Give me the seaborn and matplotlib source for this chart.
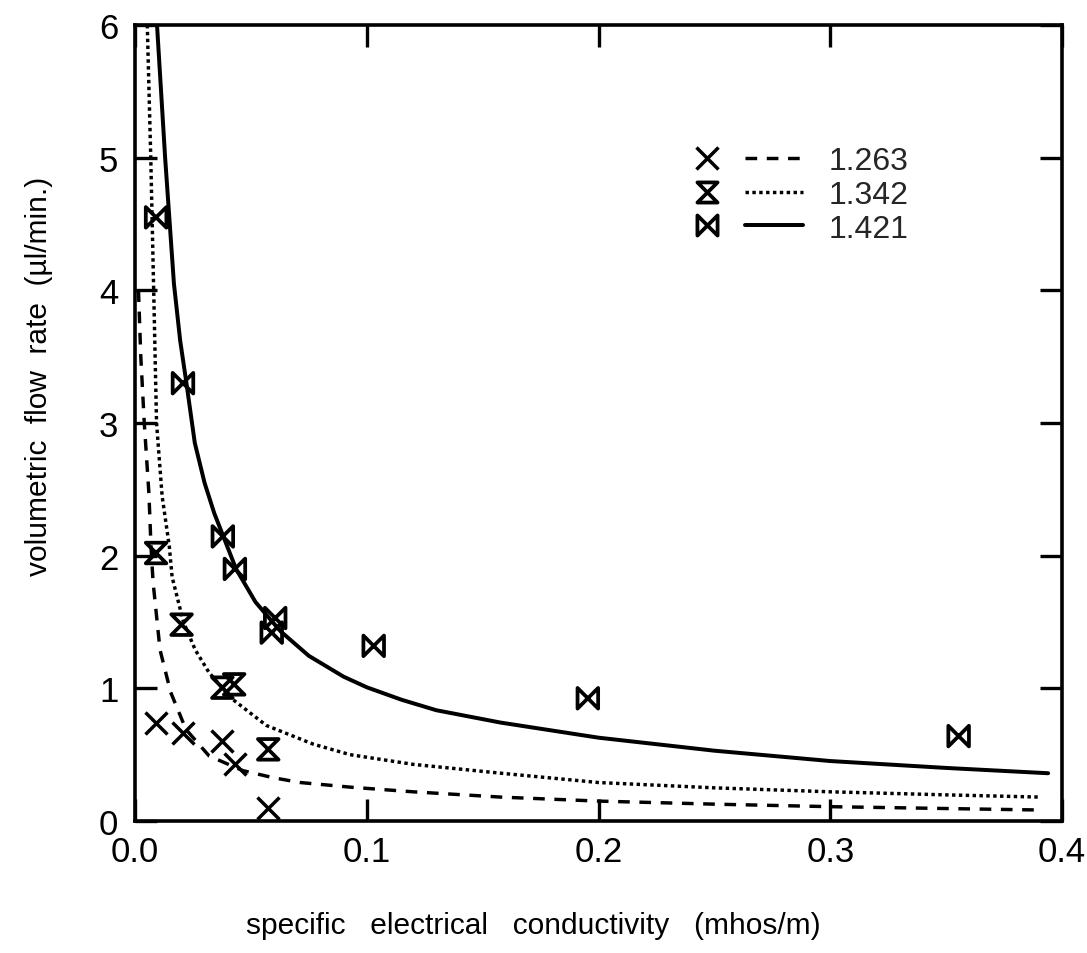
import numpy as np
import pandas as pd
import matplotlib
matplotlib.use("Agg")
import matplotlib.pyplot as plt
from matplotlib.path import Path
from matplotlib.lines import Line2D
from matplotlib.legend_handler import HandlerTuple
import seaborn as sns

# ---------------- data ----------------
series_labels = ["1.263", "1.342", "1.421"]

# measured points
x_pts_1263 = [0.0090, 0.0206, 0.0377, 0.0431, 0.0576]
y_pts_1263 = [0.74, 0.667, 0.60, 0.43, 0.10]

x_pts_1342 = [0.0091, 0.0201, 0.0377, 0.0428, 0.0575]
y_pts_1342 = [2.02, 1.48, 1.005, 1.03, 0.54]

x_pts_1421 = [0.0091, 0.0207, 0.0379, 0.0431, 0.0590, 0.0605, 0.1030, 0.1954, 0.3554]
y_pts_1421 = [4.55, 3.30, 2.145, 1.90, 1.42, 1.53, 1.32, 0.925, 0.64]

# fitted curves
x_fit_1263 = [0.0015, 0.0025, 0.0040, 0.0060, 0.0069, 0.0078, 0.0108, 0.0154,
              0.0220, 0.0320, 0.0465, 0.0600, 0.0713, 0.0930, 0.120, 0.158, 0.200,
              0.250, 0.300, 0.350, 0.390]
y_fit_1263 = [4.00, 3.50, 3.00, 2.47, 2.07, 1.80, 1.29, 0.97,
              0.69, 0.49, 0.38, 0.325, 0.29, 0.255, 0.22, 0.18, 0.15,
              0.127, 0.108, 0.094, 0.083]

x_fit_1342 = [0.0053, 0.0068, 0.0080, 0.0093, 0.0117, 0.0148, 0.0160, 0.0209,
              0.0260, 0.0319, 0.0419, 0.0567, 0.0768, 0.0928, 0.120, 0.158, 0.200,
              0.250, 0.300, 0.350, 0.391]
y_fit_1342 = [6.00, 5.00, 4.05, 3.00, 2.45, 2.07, 1.84, 1.50,
              1.29, 1.12, 0.92, 0.72, 0.58, 0.50, 0.427, 0.36, 0.29,
              0.25, 0.22, 0.197, 0.18]

x_fit_1421 = [0.0095, 0.0130, 0.0168, 0.0195, 0.0222, 0.0258, 0.0300, 0.0342,
              0.0436, 0.0520, 0.0628, 0.0750, 0.0900, 0.100, 0.115, 0.130,
              0.1577, 0.200, 0.250, 0.300, 0.350, 0.394]
y_fit_1421 = [6.00, 5.00, 4.05, 3.62, 3.30, 2.85, 2.55, 2.32,
              1.90, 1.65, 1.43, 1.245, 1.088, 1.008, 0.914, 0.835,
              0.742, 0.628, 0.53, 0.452, 0.40, 0.36]

x_ticks = [0.0, 0.1, 0.2, 0.3, 0.4]
x_tick_labels = ["0.0", "0.1", "0.2", "0.3", "0.4"]
y_ticks = [0, 1, 2, 3, 4, 5, 6]
y_tick_labels = ["0", "1", "2", "3", "4", "5", "6"]

x_label = "specific   electrical   conductivity   (mhos/m)"
y_label = "volumetric  flow  rate  (\u00b5l/min.)"

# ---------------- style ----------------
sns.set_theme(style="ticks")
plt.rcParams["font.family"] = ["Liberation Sans", "DejaVu Sans"]

hourglass = Path([(-1, 1), (1, 1), (-1, -1), (1, -1), (-1, 1)],
                 [Path.MOVETO, Path.LINETO, Path.LINETO, Path.LINETO, Path.CLOSEPOLY])
bowtie = Path([(-1, 1), (-1, -1), (1, 1), (1, -1), (-1, 1)],
              [Path.MOVETO, Path.LINETO, Path.LINETO, Path.LINETO, Path.CLOSEPOLY])

fig = plt.figure(figsize=(10.87, 9.54), dpi=100)
ax = fig.add_axes([135 / 1087, 132 / 954, 927 / 1087, 796 / 954])

dash_style = (0, (3.4, 2.8))
dot_style = (0, (1.0, 1.0))
lw = 2.6

fits = [
    (x_fit_1263, y_fit_1263, dash_style, lw * 0.95),
    (x_fit_1342, y_fit_1342, dot_style, lw * 0.95),
    (x_fit_1421, y_fit_1421, "-", lw * 1.1),
]
for xs, ys, ls, w in fits:
    df = pd.DataFrame({"x": xs, "y": ys})
    sns.lineplot(data=df, x="x", y="y", sort=False, estimator=None, ax=ax,
                 color="black", linestyle=ls, linewidth=w, clip_on=True)

pts = [
    (x_pts_1263, y_pts_1263, "x", 250, 2.5),
    (x_pts_1342, y_pts_1342, hourglass, 220, 2.7),
    (x_pts_1421, y_pts_1421, bowtie, 220, 2.7),
]
for xs, ys, mk, s, w in pts:
    df = pd.DataFrame({"x": xs, "y": ys})
    if mk == "x":
        sns.scatterplot(data=df, x="x", y="y", marker=mk, s=s, color="black",
                        linewidth=w, ax=ax, zorder=5, clip_on=False)
    else:
        sns.scatterplot(data=df, x="x", y="y", marker=mk, s=s, facecolor="none",
                        edgecolor="black", linewidth=w, ax=ax, zorder=5, clip_on=False)

ax.set_xlim(0.0, 0.4)
ax.set_ylim(0, 6)
ax.set_xticks(x_ticks)
ax.set_xticklabels(x_tick_labels)
ax.set_yticks(y_ticks)
ax.set_yticklabels(y_tick_labels)
ax.tick_params(axis="both", which="major", direction="in", length=16, width=2.4,
               labelsize=25, color="black", labelcolor="black",
               top=True, right=True)
ax.tick_params(axis="x", pad=10)
ax.tick_params(axis="y", pad=12)
for sp in ax.spines.values():
    sp.set_linewidth(2.6)
    sp.set_color("black")
    sp.set_visible(True)

ax.set_xlabel(x_label, fontsize=21.5, color="black")
ax.set_ylabel(y_label, fontsize=21.5, color="black")
ax.xaxis.set_label_coords(0.43, -0.113)
ax.yaxis.set_label_coords(-0.088, 0.56)

# legend: marker, then line sample, then label
m_handles = [
    Line2D([], [], linestyle="none", marker="x", markersize=15.5, markeredgewidth=2.5, color="black"),
    Line2D([], [], linestyle="none", marker=hourglass, markersize=14.5, markeredgewidth=2.7,
           markerfacecolor="none", markeredgecolor="black"),
    Line2D([], [], linestyle="none", marker=bowtie, markersize=14.5, markeredgewidth=2.7,
           markerfacecolor="none", markeredgecolor="black"),
]
l_handles = [
    Line2D([], [], color="black", linestyle=dash_style, linewidth=lw * 0.95),
    Line2D([], [], color="black", linestyle=dot_style, linewidth=lw * 0.95),
    Line2D([], [], color="black", linestyle="-", linewidth=lw * 1.1),
]
handles = [(m, l) for m, l in zip(m_handles, l_handles)]
ax.legend(handles=handles, labels=series_labels,
          handler_map={tuple: HandlerTuple(ndivide=None, pad=0.3)},
          loc="upper left", bbox_to_anchor=(0.586, 0.848), frameon=False,
          fontsize=23, handlelength=3.9, handletextpad=0.8, labelspacing=0.12,
          borderpad=0.0, borderaxespad=0.0)

fig.savefig("out.png", dpi=100, facecolor="white")
